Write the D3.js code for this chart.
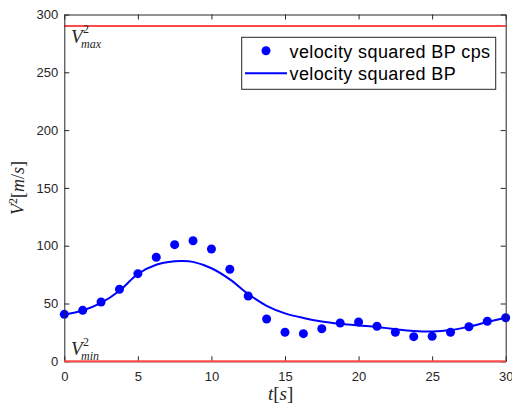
<!DOCTYPE html>
<html><head><meta charset="utf-8">
<script src="https://cdn.jsdelivr.net/npm/d3@7"></script>
<style>body{margin:0;background:#fff}svg{display:block}</style>
</head><body>
<script>
const tPts = [0,1.25,2.5,3.75,5,6.25,7.5,8.75,10,11.25,12.5,13.75,15,16.25,17.5,18.75,20,21.25,22.5,23.75,25,26.25,27.5,28.75,30];
const vPts = [40.6,44.1,51.3,62.3,75.8,90.0,100.9,104.3,97.1,79.6,56.5,36.6,25.1,23.9,28.2,33.1,34.0,30.3,25.1,21.3,21.6,25.1,29.9,34.6,37.7];
const tFit = [0,1.25,2.5,3.75,5,6.25,7.5,8,8.75,10,11.25,12.5,13.75,15,16.25,17.5,18.75,20,21.25,22.5,23.75,25,26.25,27.5,28.75,30];
const vFit = [40.6,44,50.5,61,75.5,83.5,86.5,86.8,86,80.5,70.9,58.2,48,41.5,37.5,34.5,32.5,31,29.7,27.8,26.3,25.8,27,30,34,37.7];
const vMax = 290, vMin = 0;
const xTicks = [0,5,10,15,20,25,30];
const yTicks = [0,50,100,150,200,250,300];
const legendLabels = ["velocity squared BP cps","velocity squared BP"];

const W=512,H=410, L=64.3, R=505.7, T=14.5, B=361.3;
const svg = d3.select("body").append("svg").attr("width",W).attr("height",H);
const x = d3.scaleLinear().domain([0,30]).range([L,R]);
const y = d3.scaleLinear().domain([0,300]).range([B,T]);
const axCol="#262626";

// red limit line (max)
svg.append("line").attr("x1",L).attr("x2",R).attr("y1",y(vMax)).attr("y2",y(vMax))
  .attr("stroke","#ff4a4a").attr("stroke-width",2);

// fitted curve
svg.append("path").datum(tFit.map((t,i)=>[t,vFit[i]]))
  .attr("d",d3.line().x(d=>x(d[0])).y(d=>y(d[1])).curve(d3.curveCatmullRom))
  .attr("fill","none").attr("stroke","#0000ff").attr("stroke-width",2);

// points
svg.append("g").selectAll("circle").data(tPts.map((t,i)=>[t,vPts[i]])).join("circle")
  .attr("cx",d=>x(d[0])).attr("cy",d=>y(d[1])).attr("r",4.5).attr("fill","#0000ff");

// axes
const fs="13px 'Liberation Sans', Arial, sans-serif";
const gx = svg.append("g").attr("transform",`translate(0,${B})`)
  .call(d3.axisBottom(x).tickValues(xTicks).tickSizeInner(-5).tickSizeOuter(0).tickPadding(10));
const gy = svg.append("g").attr("transform",`translate(${L},0)`)
  .call(d3.axisLeft(y).tickValues(yTicks).tickSizeInner(-5).tickSizeOuter(0).tickPadding(6));
const gxt = svg.append("g").attr("transform",`translate(0,${T})`)
  .call(d3.axisTop(x).tickValues(xTicks).tickSizeInner(-5).tickSizeOuter(0).tickFormat(""));
const gyr = svg.append("g").attr("transform",`translate(${R},0)`)
  .call(d3.axisRight(y).tickValues(yTicks).tickSizeInner(-5).tickSizeOuter(0).tickFormat(""));
[gx,gy,gxt,gyr].forEach(g=>{
  g.selectAll("path,line").attr("stroke",axCol).attr("stroke-width",1);
  g.selectAll("text").style("font",fs).attr("fill",axCol);
});
// min line over the axis
svg.append("line").attr("x1",L).attr("x2",R).attr("y1",y(vMin)).attr("y2",y(vMin))
  .attr("stroke","#ff4a4a").attr("stroke-width",2);

// V labels
const serif="'Liberation Serif',serif";
function vlab(xp,yb,supB,subB,sub){
  svg.append("text").attr("x",xp).attr("y",yb).style("font-family",serif).style("font-style","italic")
    .style("font-size","19px").attr("fill","#262626").text("V");
  svg.append("text").attr("x",xp+12).attr("y",supB).style("font-family",serif)
    .style("font-size","12px").attr("fill","#262626").text("2");
  svg.append("text").attr("x",xp+10).attr("y",subB).style("font-family",serif).style("font-style","italic")
    .style("font-size","12px").attr("fill","#262626").text(sub);
}
vlab(71,43,33,47.5,"max");
vlab(71,355,346,360,"min");

svg.append("text").attr("x",268).attr("y",400).style("font-family",serif).style("font-size","19px").attr("fill","#262626")
  .html('<tspan font-style="italic">t</tspan>[<tspan font-style="italic">s</tspan>]');

const yl = svg.append("text").attr("transform","translate(24,188) rotate(-90)").attr("text-anchor","middle")
  .style("font-family",serif).style("font-size","18px").attr("fill","#262626");
yl.append("tspan").style("font-style","italic").text("V");
yl.append("tspan").attr("dy",-7).style("font-size","12px").text("2");
yl.append("tspan").attr("dy",7).text("[");
yl.append("tspan").style("font-style","italic").text("m");
yl.append("tspan").text("/");
yl.append("tspan").style("font-style","italic").text("s");
yl.append("tspan").text("]");

// legend
const lg = svg.append("g");
lg.append("rect").attr("x",241.7).attr("y",37.3).attr("width",254).attr("height",52)
  .attr("fill","#fff").attr("stroke",axCol).attr("stroke-width",1);
lg.append("circle").attr("cx",266).attr("cy",50.7).attr("r",4.5).attr("fill","#0000ff");
lg.append("line").attr("x1",245).attr("x2",287).attr("y1",73.3).attr("y2",73.3).attr("stroke","#0000ff").attr("stroke-width",2);
lg.selectAll("text.lt").data(legendLabels).join("text").attr("class","lt")
  .attr("x",289.5).attr("y",(d,i)=>58+i*22.3)
  .style("font","18px 'Liberation Sans', Arial, sans-serif").style("letter-spacing","0.4px").attr("fill","#000").text(d=>d);
</script>
</body></html>
